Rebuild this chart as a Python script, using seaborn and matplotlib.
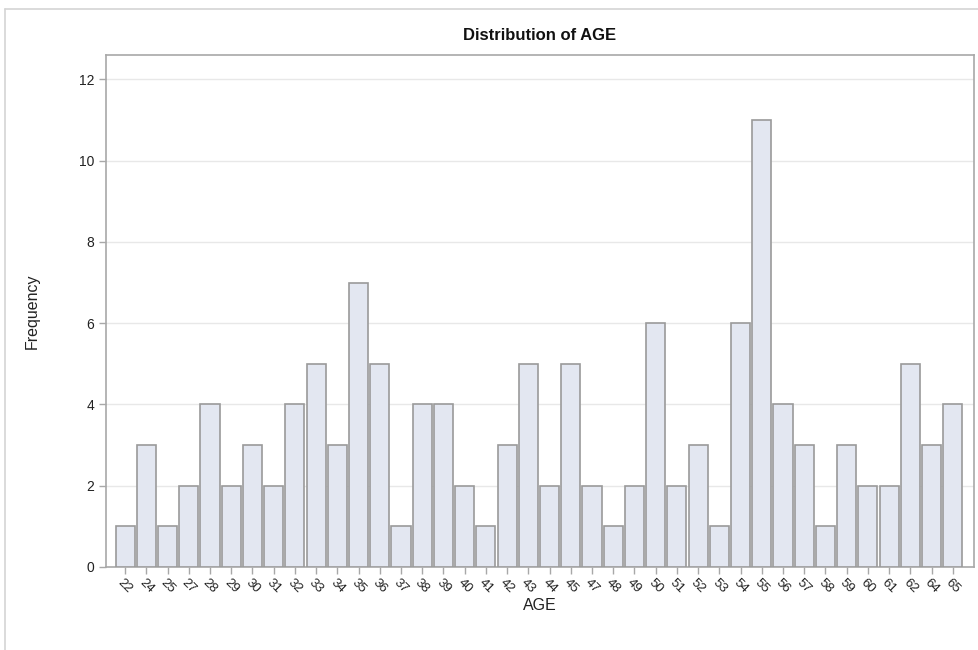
import matplotlib
matplotlib.use("Agg")
import matplotlib.pyplot as plt
import seaborn as sns
import pandas as pd
from matplotlib.lines import Line2D

ages = [22, 24, 25, 27, 28, 29, 30, 31, 32, 33, 34, 35, 36, 37, 38, 39, 40, 41, 42, 43,
        44, 45, 47, 48, 49, 50, 51, 52, 53, 54, 55, 56, 57, 58, 59, 60, 61, 62, 64, 65]
freq = [1, 3, 1, 2, 4, 2, 3, 2, 4, 5, 3, 7, 5, 1, 4, 4, 2, 1, 3, 5,
        2, 5, 2, 1, 2, 6, 2, 3, 1, 6, 11, 4, 3, 1, 3, 2, 2, 5, 3, 4]
yticks = [0, 2, 4, 6, 8, 10, 12]

sns.set_theme(style="white")
plt.rcParams['font.family'] = ['Liberation Sans', 'DejaVu Sans']

df = pd.DataFrame({"AGE": [str(a) for a in ages], "Frequency": freq})

fig = plt.figure(figsize=(9.79, 6.5), dpi=100)
ax = fig.add_axes([106/979, 1 - 567/650, (974-106)/979, (567-55)/650])

sns.barplot(data=df, x="AGE", y="Frequency", order=[str(a) for a in ages],
            color="#E3E7F1", edgecolor="#9A9A9A", linewidth=1.2, width=0.9,
            saturation=1, ax=ax, zorder=3)

ax.set_xlim(-0.9, 40.0)
ax.set_ylim(0, 12.6)
ax.set_yticks(yticks)
ax.yaxis.grid(True, color="#E8E8E8", linewidth=1, zorder=0)
ax.set_axisbelow(True)

for s in ax.spines.values():
    s.set_color("#A8A8A8")
    s.set_linewidth(1.2)

ax.tick_params(axis="both", direction="out", length=5, width=1, color="#A8A8A8",
               labelsize=10, labelcolor="#222222", bottom=True, left=True)
ax.tick_params(axis="x", labelsize=9.5, pad=2)
plt.setp(ax.get_xticklabels(), rotation=-45, ha="center", va="top")

ax.set_xlabel("AGE", fontsize=11.5, color="#222222", va="center")
ax.xaxis.set_label_coords(0.5, -(605 - 567) / 512)
ax.set_ylabel("Frequency", fontsize=11.5, color="#222222", labelpad=28)
fig.text(0.5 * (106 + 974) / 979, 1 - 36/650, "Distribution of AGE", ha="center", va="center",
         fontsize=12, fontweight="bold", color="#111111")

# outer frame
fig.add_artist(Line2D([5/979, 5/979], [0, 1 - 9/650], transform=fig.transFigure,
                      color="#D4D4D4", linewidth=1.2))
fig.add_artist(Line2D([5/979, 1], [1 - 9/650, 1 - 9/650], transform=fig.transFigure,
                      color="#D4D4D4", linewidth=1.2))

fig.savefig("out.png", dpi=100)
